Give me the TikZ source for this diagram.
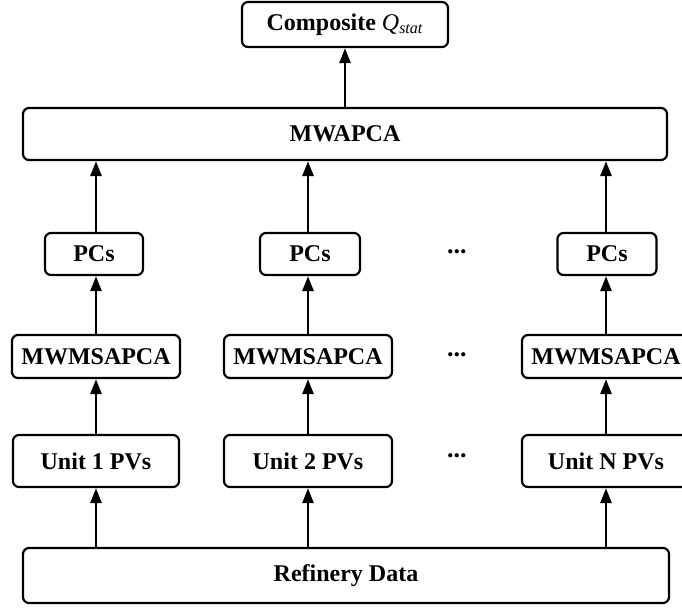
\documentclass[tikz,border=0pt]{standalone}
\usepackage{fontspec}
\setmainfont{Liberation Serif}
\usetikzlibrary{arrows.meta}

\begin{document}
\begin{tikzpicture}[x=0.5pt,y=-0.5pt]

      \useasboundingbox (0,0) rectangle (682,607);

      \begin{scope}[every node/.style={draw,line width=1.1pt,rounded corners=3pt,inner sep=0pt,
          font=\bfseries\fontsize{12}{14}\selectfont}]
        \node[minimum width=103pt,minimum height=22.5pt] (comp) at (345,24.5) {Composite \textnormal{\itshape Q\textsubscript{stat}}};
        \node[minimum width=322pt,minimum height=26pt] (mwapca) at (345,134) {MWAPCA};
        \node[minimum width=49pt,minimum height=21pt] (pcs1) at (94,254) {PCs};
        \node[minimum width=50pt,minimum height=21pt] (pcs2) at (310,254) {PCs};
        \node[minimum width=49.5pt,minimum height=21pt] (pcs3) at (607,254) {PCs};
        \node[minimum width=84pt,minimum height=21.5pt] (ms1) at (96,356.5) {MWMSAPCA};
        \node[minimum width=84pt,minimum height=21.5pt] (ms2) at (308,356.5) {MWMSAPCA};
        \node[minimum width=84pt,minimum height=21.5pt] (ms3) at (606,356.5) {MWMSAPCA};
        \node[minimum width=83pt,minimum height=26pt] (unit1) at (96,461) {Unit 1 PVs};
        \node[minimum width=84pt,minimum height=26pt] (unit2) at (308,461) {Unit 2 PVs};
        \node[minimum width=84pt,minimum height=26pt] (unit3) at (606,461) {Unit N PVs};
        \node[minimum width=323pt,minimum height=27.5pt] (ref) at (346,575.5) {Refinery Data};
      \end{scope}

      \begin{scope}[every node/.style={font=\bfseries\fontsize{13}{14}\selectfont}]
        \node (dots1) at (457,252) {...};
        \node (dots2) at (457,355) {...};
        \node (dots3) at (457,456) {...};
      \end{scope}

      \begin{scope}[>={Triangle[length=7.5pt,width=5.5pt]},
          every edge/.style={draw=black,line width=1.3pt}]
        \path [->] (ref.north -| unit1) edge (unit1.south);
        \path [->] (ref.north -| unit2) edge (unit2.south);
        \path [->] (ref.north -| unit3) edge (unit3.south);
        \path [->] (unit1) edge (ms1.south);
        \path [->] (unit2) edge (ms2.south);
        \path [->] (unit3) edge (ms3.south);
        \path [->] (ms1) edge (pcs1.south -| ms1);
        \path [->] (ms2) edge (pcs2.south -| ms2);
        \path [->] (ms3) edge (pcs3.south -| ms3);
        \path [->] (pcs1.north -| ms1) edge (mwapca.south -| ms1);
        \path [->] (pcs2.north -| ms2) edge (mwapca.south -| ms2);
        \path [->] (pcs3.north -| ms3) edge (mwapca.south -| ms3);
        \path [->] (mwapca.north -| comp) edge (comp.south);
      \end{scope}
    \end{tikzpicture}
\end{document}
